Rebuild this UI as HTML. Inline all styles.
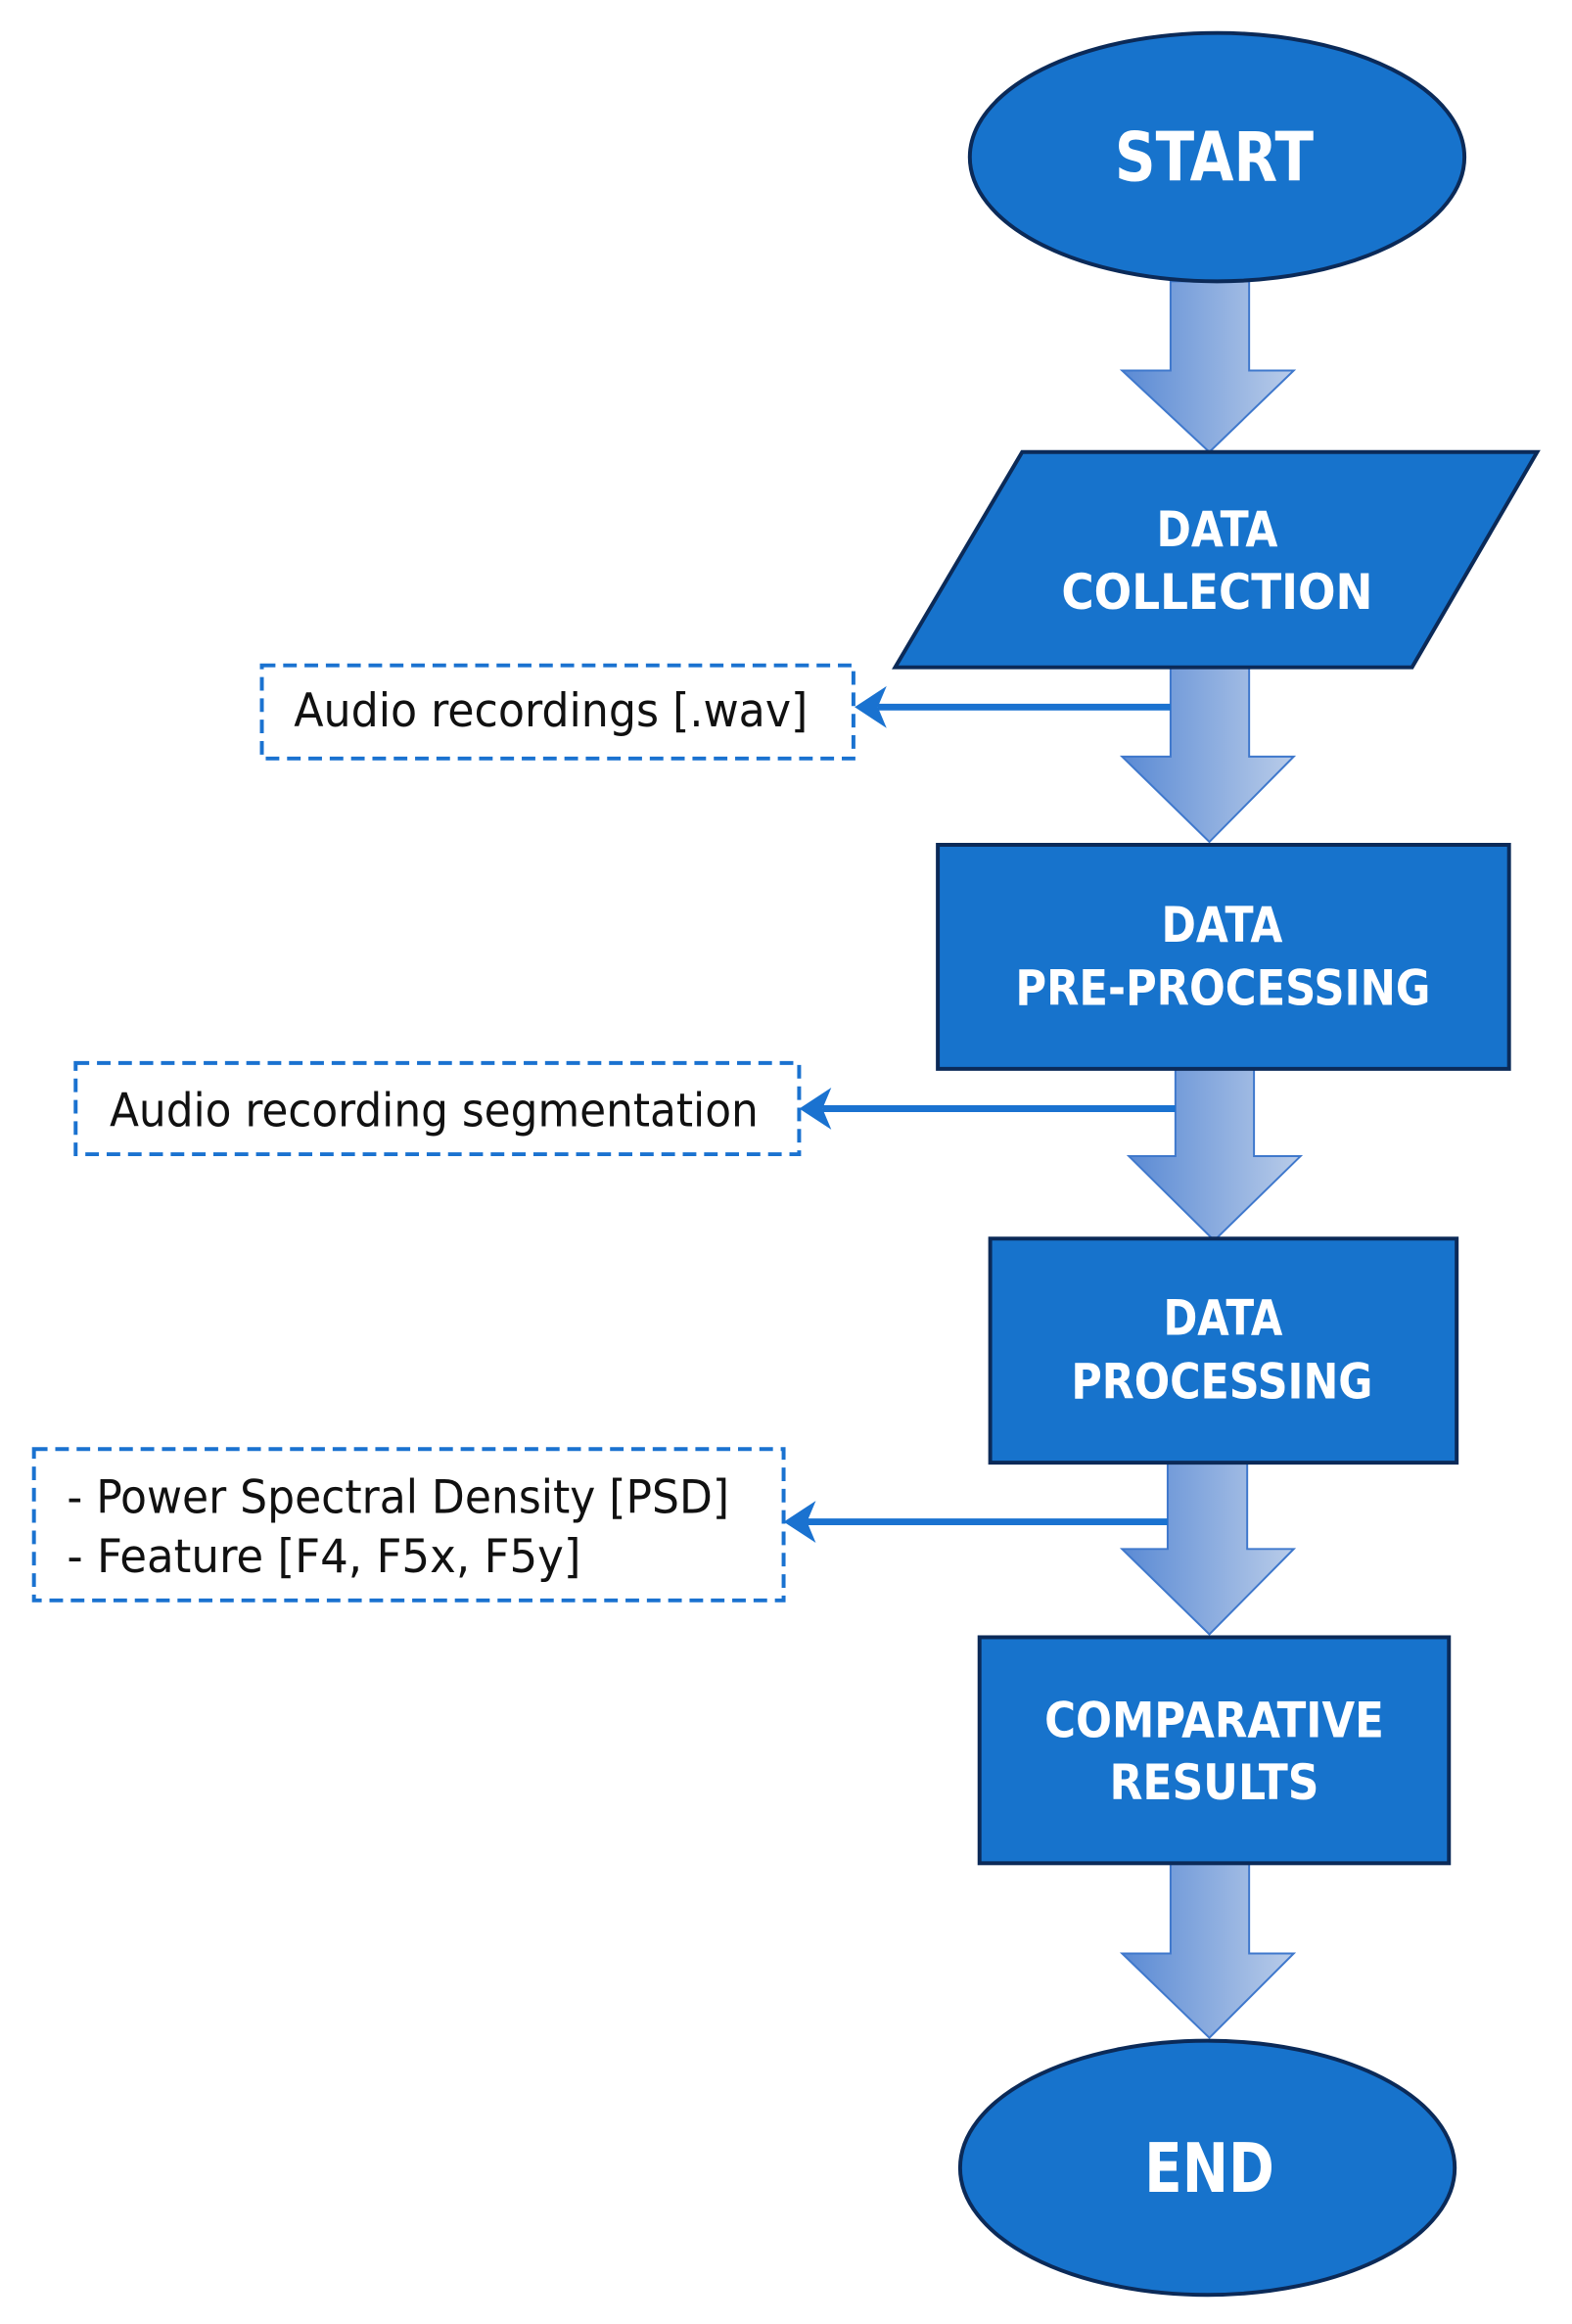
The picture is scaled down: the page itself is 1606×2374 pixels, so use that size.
<!DOCTYPE html>
<html><head><meta charset="utf-8"><style>html,body{margin:0;padding:0;background:#fff}svg{display:block}</style></head>
<body>
<svg width="1606" height="2374" viewBox="0 0 1606 2374" xmlns="http://www.w3.org/2000/svg">
<defs>
<linearGradient id="g" x1="0" y1="0" x2="1" y2="0">
<stop offset="0" stop-color="#5a8ad4"/><stop offset="1" stop-color="#b9cce9"/>
</linearGradient>
</defs>
<g transform="scale(0.9908)">
<g font-family="'DejaVu Sans','Liberation Sans',sans-serif" font-weight="bold" fill="#fff" text-anchor="middle">
<g fill="url(#g)" stroke="#3f78cc" stroke-width="2">
<polygon points="1207,290 1288,290 1288,382 1334,382 1247,466 1157,382 1207,382"/>
<polygon points="1207,688 1288,688 1288,780 1334,780 1247,868 1157,780 1207,780"/>
<polygon points="1212,1102 1293,1102 1293,1192 1341,1192 1252,1279 1164,1192 1212,1192"/>
<polygon points="1204,1508 1286,1508 1286,1597 1334,1597 1247,1685 1157,1597 1204,1597"/>
<polygon points="1207,1921 1288,1921 1288,2014 1334,2014 1247,2101 1157,2014 1207,2014"/>
</g>
<ellipse cx="1255" cy="162" rx="255" ry="128" fill="#1773cc" stroke="#0b2a58" stroke-width="4"/>
<text x="1252" y="186" font-size="70" textLength="205" lengthAdjust="spacingAndGlyphs">START</text>
<polygon points="1054,466 1585,466 1456,688 923,688" fill="#1773cc" stroke="#0b2a58" stroke-width="4"/>
<text x="1255" y="563" font-size="50" textLength="125" lengthAdjust="spacingAndGlyphs">DATA</text>
<text x="1255" y="628" font-size="50" textLength="321" lengthAdjust="spacingAndGlyphs">COLLECTION</text>
<rect x="967" y="871" width="589" height="231" fill="#1773cc" stroke="#0b2a58" stroke-width="4"/>
<text x="1260" y="971" font-size="50" textLength="125" lengthAdjust="spacingAndGlyphs">DATA</text>
<text x="1261" y="1036" font-size="50" textLength="428" lengthAdjust="spacingAndGlyphs">PRE-PROCESSING</text>
<rect x="1021" y="1277" width="481" height="231" fill="#1773cc" stroke="#0b2a58" stroke-width="4"/>
<text x="1261" y="1376" font-size="50" textLength="123" lengthAdjust="spacingAndGlyphs">DATA</text>
<text x="1260" y="1442" font-size="50" textLength="311" lengthAdjust="spacingAndGlyphs">PROCESSING</text>
<rect x="1010" y="1688" width="484" height="233" fill="#1773cc" stroke="#0b2a58" stroke-width="4"/>
<text x="1252" y="1791" font-size="50" textLength="350" lengthAdjust="spacingAndGlyphs">COMPARATIVE</text>
<text x="1252" y="1855" font-size="50" textLength="216" lengthAdjust="spacingAndGlyphs">RESULTS</text>
<ellipse cx="1245" cy="2235" rx="255" ry="131" fill="#1773cc" stroke="#0b2a58" stroke-width="4"/>
<text x="1247" y="2260" font-size="70" textLength="134" lengthAdjust="spacingAndGlyphs">END</text>
</g>
<g stroke="#1a72d0" stroke-width="7" fill="#1a72d0">
<line x1="1207" y1="729" x2="905" y2="729"/>
<polygon points="883,729 912,710 904,729 912,748" stroke-width="2"/>
<line x1="1212" y1="1143" x2="848" y2="1143"/>
<polygon points="826,1143 855,1124 847,1143 855,1162" stroke-width="2"/>
<line x1="1204" y1="1569" x2="832" y2="1569"/>
<polygon points="810,1569 839,1550 831,1569 839,1588" stroke-width="2"/>
</g>
<g fill="none" stroke="#1a72d0" stroke-width="4" stroke-dasharray="14,8">
<rect x="270" y="686" width="610" height="96"/>
<rect x="78" y="1096" width="746" height="94"/>
<rect x="35" y="1494" width="773" height="156"/>
</g>
<g font-family="'DejaVu Sans Condensed','DejaVu Sans','Liberation Sans',sans-serif" fill="#111" font-size="48">
<text x="303" y="749" textLength="530" lengthAdjust="spacingAndGlyphs">Audio recordings [.wav]</text>
<text x="113" y="1161" textLength="669" lengthAdjust="spacingAndGlyphs">Audio recording segmentation</text>
<text x="69" y="1560" textLength="683" lengthAdjust="spacingAndGlyphs">- Power Spectral Density [PSD]</text>
<text x="69" y="1621" textLength="530" lengthAdjust="spacingAndGlyphs">- Feature [F4, F5x, F5y]</text>
</g>
</g>
</svg>
</body></html>
